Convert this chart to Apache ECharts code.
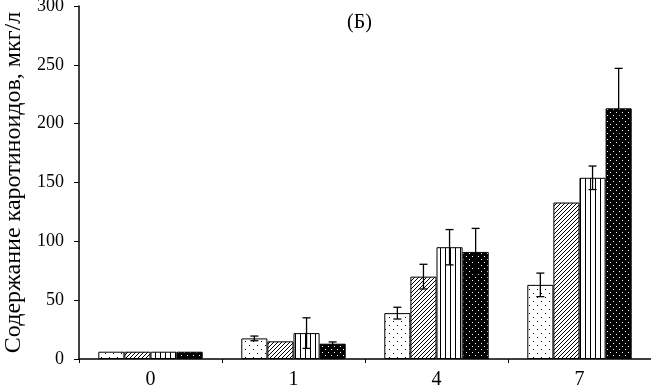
<!DOCTYPE html>
<html>
<head>
<meta charset="utf-8">
<script src="https://cdn.jsdelivr.net/npm/echarts@6/dist/echarts.min.js"></script>
<style>
  html, body { margin: 0; padding: 0; background: #fff; }
  #main { width: 651px; height: 390px; }
</style>
</head>
<body>
<div id="main"></div>
<script>
// 数据
var categories = ["0", "1", "4", "7"];
var s1 = [6.2, 17.5, 39, 63];
var s2 = [6.2, 15, 70, 133];
var s3 = [6.2, 22, 95, 154];
var s4 = [6.2, 13, 91, 213];
var e1 = [0, 2, 5, 10];
var e2 = [0, 0, 10.5, 0];
var e3 = [0, 13, 15, 10];
var e4 = [0, 1.5, 20, 34];
var yTicks = [0, 50, 100, 150, 200, 250, 300];

var FONT = "Liberation Serif";

// 填充图案
function makePattern(w, h, bg, draw) {
  var c = document.createElement("canvas");
  c.width = w;
  c.height = h;
  var ctx = c.getContext("2d");
  ctx.fillStyle = bg;
  ctx.fillRect(0, 0, w, h);
  draw(ctx);
  return { image: c, repeat: "repeat" };
}

var patDots = makePattern(8, 8, "#fff", function (ctx) {
  ctx.fillStyle = "#000";
  ctx.fillRect(1, 1, 1, 1);
  ctx.fillRect(5, 5, 1, 1);
});
var patDiag = makePattern(4, 4, "#fff", function (ctx) {
  ctx.strokeStyle = "#000";
  ctx.lineWidth = 1;
  ctx.beginPath();
  ctx.moveTo(-1, 5);
  ctx.lineTo(5, -1);
  ctx.stroke();
});
var patVert = makePattern(5, 4, "#fff", function (ctx) {
  ctx.fillStyle = "#000";
  ctx.fillRect(0, 0, 1, 4);
});
var patBlack = makePattern(6, 6, "#000", function (ctx) {
  ctx.fillStyle = "#fff";
  ctx.fillRect(1, 1, 1, 1);
  ctx.fillRect(4, 4, 1, 1);
});

var values = [s1, s2, s3, s4];
var errs = [e1, e2, e3, e4];
var patterns = [patDots, patDiag, patVert, patBlack];
var GAP = 0.27;

var series = [];
values.forEach(function (v, i) {
  series.push({
    type: "bar",
    data: v,
    barGap: 0,
    barCategoryGap: GAP * 100 + "%",
    itemStyle: { color: patterns[i], borderColor: "#000", borderWidth: 1 },
    z: 2
  });
});

// 误差线
var errData = [];
values.forEach(function (v, i) {
  v.forEach(function (val, j) {
    if (errs[i][j] > 0) errData.push([j, val, errs[i][j], i]);
  });
});
series.push({
  type: "custom",
  data: errData,
  z: 10,
  renderItem: function (params, api) {
    var j = api.value(0), m = api.value(1), e = api.value(2), k = api.value(3);
    var band = api.size([1, 0])[0];
    var bw = band * (1 - GAP) / 4;
    var off = (k - 1.5) * bw;
    var top = api.coord([j, m + e]);
    var bot = api.coord([j, m - e]);
    var x = top[0] + off;
    var cap = 4;
    var st = { stroke: "#000", lineWidth: 1.3 };
    return {
      type: "group",
      children: [
        { type: "line", shape: { x1: x, y1: top[1], x2: x, y2: bot[1] }, style: st },
        { type: "line", shape: { x1: x - cap, y1: top[1], x2: x + cap, y2: top[1] }, style: st },
        { type: "line", shape: { x1: x - cap, y1: bot[1], x2: x + cap, y2: bot[1] }, style: st }
      ]
    };
  }
});

var chart = echarts.init(document.getElementById("main"));
var option = {
  animation: false,
  backgroundColor: "#fff",
  title: {
    text: "(Б)",
    left: 342,
    top: 8,
    textStyle: { fontFamily: FONT, fontSize: 20, fontWeight: "normal", color: "#000" }
  },
  grid: { left: 79, right: 0, top: 6, bottom: 31, outerBoundsMode: "none", containLabel: false },
  xAxis: {
    type: "category",
    data: categories,
    axisLine: { lineStyle: { color: "#000", width: 1.5 } },
    axisTick: { show: true, length: 4, inside: false, lineStyle: { color: "#000" } },
    axisLabel: { fontFamily: FONT, fontSize: 20, color: "#000", margin: 11 }
  },
  yAxis: {
    type: "value",
    min: yTicks[0],
    max: yTicks[yTicks.length - 1],
    interval: 50,
    name: "Содержание каротиноидов, мкг/л",
    nameLocation: "middle",
    nameRotate: 90,
    nameGap: 52,
    nameTextStyle: { fontFamily: FONT, fontSize: 24, color: "#000" },
    axisLine: { show: true, lineStyle: { color: "#000", width: 1.5 } },
    axisTick: { show: true, length: 5, lineStyle: { color: "#000" } },
    axisLabel: { fontFamily: FONT, fontSize: 18, color: "#000", margin: 15 },
    splitLine: { show: false }
  },
  series: series
};
chart.setOption(option);
</script>
</body>
</html>
